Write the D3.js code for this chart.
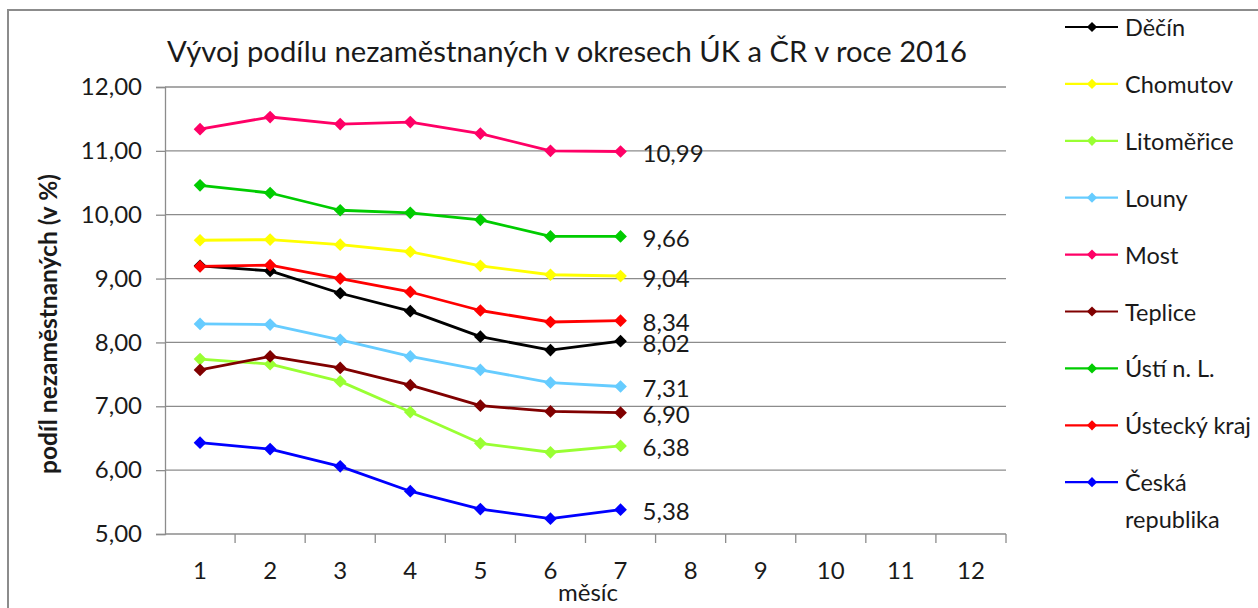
<!DOCTYPE html>
<html>
<head>
<meta charset="utf-8">
<script src="https://cdn.jsdelivr.net/npm/d3@7"></script>
<style>
  html, body { margin: 0; padding: 0; background: #fff; }
  svg { display: block; font-family: Lato, "Open Sans", sans-serif; }
</style>
</head>
<body>
<svg id="chart" width="1258" height="608"></svg>
<script>
// Chart data
const months = [1, 2, 3, 4, 5, 6, 7, 8, 9, 10, 11, 12];
const yTicks = [5, 6, 7, 8, 9, 10, 11, 12];

const decin = [9.20, 9.12, 8.77, 8.49, 8.09, 7.88, 8.02];
const chomutov = [9.60, 9.61, 9.53, 9.42, 9.20, 9.06, 9.04];
const litomerice = [7.74, 7.66, 7.39, 6.91, 6.42, 6.28, 6.38];
const louny = [8.29, 8.28, 8.04, 7.78, 7.57, 7.37, 7.31];
const most = [11.34, 11.53, 11.42, 11.45, 11.27, 11.00, 10.99];
const teplice = [7.57, 7.78, 7.60, 7.33, 7.01, 6.92, 6.90];
const ustiNL = [10.46, 10.34, 10.07, 10.03, 9.92, 9.66, 9.66];
const usteckyKraj = [9.19, 9.21, 9.00, 8.79, 8.50, 8.32, 8.34];
const ceskaRepublika = [6.43, 6.33, 6.06, 5.67, 5.39, 5.24, 5.38];

const seriesNames = ['Děčín', 'Chomutov', 'Litoměřice', 'Louny', 'Most',
  'Teplice', 'Ústí n. L.', 'Ústecký kraj', 'Česká republika'];
const seriesValues = [decin, chomutov, litomerice, louny, most,
  teplice, ustiNL, usteckyKraj, ceskaRepublika];
const seriesColors = ['#000000', '#FFFF00', '#99FF33', '#66CCFF', '#FF0066',
  '#800000', '#00CC00', '#FF0000', '#0000FF'];

const series = seriesNames.map((name, i) => ({
  name,
  color: seriesColors[i],
  values: seriesValues[i].map((v, j) => ({ month: months[j], value: v }))
}));

const fmt = v => d3.format('.2f')(v).replace('.', ',');

// Layout
const plot = { left: 165, right: 1006, top: 87, bottom: 534 };
const svg = d3.select('#chart');

// fit a text element to a target width by scaling its font size
function fitWidth(sel, base, target) {
  const w = sel.node().getComputedTextLength();
  sel.attr('font-size', base * target / w);
}

// Outer chart border (extends past the right and bottom edge)
svg.append('path')
  .attr('d', 'M8,1000 L8,10 L1300,10')
  .attr('fill', 'none')
  .attr('stroke', '#8c8c8c')
  .attr('stroke-width', 2);

// Scales
const x = d3.scaleBand().domain(months).range([plot.left, plot.right]).padding(0);
const y = d3.scaleLinear().domain([5, 12]).range([plot.bottom, plot.top]);
const cx = m => x(m) + x.bandwidth() / 2;

// Gridlines
svg.append('g')
  .selectAll('line')
  .data(yTicks.slice(1))
  .join('line')
  .attr('x1', plot.left).attr('x2', plot.right)
  .attr('y1', d => y(d)).attr('y2', d => y(d))
  .attr('stroke', '#8c8c8c')
  .attr('stroke-width', 1.3);

// Y axis
const yAxis = svg.append('g')
  .attr('transform', `translate(${plot.left},0)`)
  .call(d3.axisLeft(y).tickValues(yTicks).tickFormat(fmt).tickSize(9).tickPadding(14));
yAxis.select('.domain').attr('stroke', '#8c8c8c').attr('stroke-width', 1.3);
yAxis.selectAll('.tick line').attr('stroke', '#8c8c8c').attr('stroke-width', 1.3);
yAxis.selectAll('.tick text')
  .attr('font-size', 24)
  .attr('font-family', 'Lato, sans-serif')
  .attr('fill', '#1a1a1a');

// X axis: tick marks on category boundaries, labels centered
const xAxisG = svg.append('g').attr('transform', `translate(0,${plot.bottom})`);
xAxisG.append('line')
  .attr('x1', plot.left).attr('x2', plot.right)
  .attr('stroke', '#8c8c8c').attr('stroke-width', 1.3);
xAxisG.selectAll('.tk')
  .data(months)
  .join('line')
  .attr('class', 'tk')
  .attr('x1', d => x(d) + x.bandwidth()).attr('x2', d => x(d) + x.bandwidth())
  .attr('y1', 0).attr('y2', 9)
  .attr('stroke', '#8c8c8c').attr('stroke-width', 1.3);
xAxisG.selectAll('.lbl')
  .data(months)
  .join('text')
  .attr('class', 'lbl')
  .attr('x', d => cx(d))
  .attr('y', 35)
  .attr('dominant-baseline', 'central')
  .attr('text-anchor', 'middle')
  .attr('font-size', 24)
  .attr('fill', '#1a1a1a')
  .text(d => d);

// Axis titles
svg.append('text')
  .attr('x', 588).attr('y', 591)
  .attr('text-anchor', 'middle')
  .attr('dominant-baseline', 'central')
  .attr('font-size', 24)
  .attr('fill', '#1a1a1a')
  .text('měsíc');

const yTitle = svg.append('text')
  .attr('transform', 'translate(47,324) rotate(-90)')
  .attr('text-anchor', 'middle')
  .attr('dominant-baseline', 'central')
  .attr('font-size', 20)
  .attr('font-weight', 'bold')
  .attr('fill', '#1a1a1a')
  .text('podíl nezaměstnaných (v %)');
fitWidth(yTitle, 20, 300);

// Title, fitted to the reference width
const title = svg.append('text')
  .attr('x', 567).attr('y', 62)
  .attr('text-anchor', 'middle')
  .attr('font-size', 26)
  .attr('fill', '#1a1a1a')
  .text('Vývoj podílu nezaměstnaných v okresech ÚK a ČR v roce 2016');
fitWidth(title, 26, 800);

// Lines and markers
const line = d3.line()
  .x(d => cx(d.month))
  .y(d => y(d.value));
const diamond = d3.symbol().type(d3.symbolSquare).size(81);

const gSeries = svg.append('g')
  .selectAll('g')
  .data(series)
  .join('g');

gSeries.append('path')
  .attr('d', d => line(d.values))
  .attr('fill', 'none')
  .attr('stroke', d => d.color)
  .attr('stroke-width', 2.8)
  .attr('stroke-linejoin', 'round');

gSeries.each(function (s) {
  d3.select(this).selectAll('path.mk')
    .data(s.values)
    .join('path')
    .attr('class', 'mk')
    .attr('d', diamond)
    .attr('transform', d => `translate(${cx(d.month)},${y(d.value)}) rotate(45)`)
    .attr('fill', s.color);
});

// Data labels on the last point
svg.append('g')
  .selectAll('text')
  .data(series)
  .join('text')
  .attr('x', d => cx(d.values[d.values.length - 1].month) + 22)
  .attr('y', d => y(d.values[d.values.length - 1].value) + 1)
  .attr('dominant-baseline', 'central')
  .attr('font-size', 24)
  .attr('fill', '#1a1a1a')
  .text(d => fmt(d.values[d.values.length - 1].value));

// Legend
const legendTop = 27;
const legendStep = 56.9;
const legend = svg.append('g')
  .selectAll('g')
  .data(series)
  .join('g')
  .attr('transform', (d, i) => `translate(1065,${legendTop + i * legendStep})`);

legend.append('line')
  .attr('x1', 0).attr('x2', 53)
  .attr('stroke', d => d.color)
  .attr('stroke-width', 2.2);
legend.append('path')
  .attr('d', d3.symbol().type(d3.symbolSquare).size(52))
  .attr('transform', 'translate(27,0) rotate(45)')
  .attr('fill', d => d.color);

legend.append('text')
  .attr('x', 60)
  .attr('dominant-baseline', 'central')
  .attr('font-size', 23.5)
  .attr('fill', '#1a1a1a')
  .each(function (d) {
    const words = d.name === 'Česká republika' ? ['Česká', 'republika'] : [d.name];
    d3.select(this).selectAll('tspan')
      .data(words)
      .join('tspan')
      .attr('x', 60)
      .attr('dy', (w, i) => i === 0 ? 0 : 37)
      .text(w => w);
  });
</script>
</body>
</html>
